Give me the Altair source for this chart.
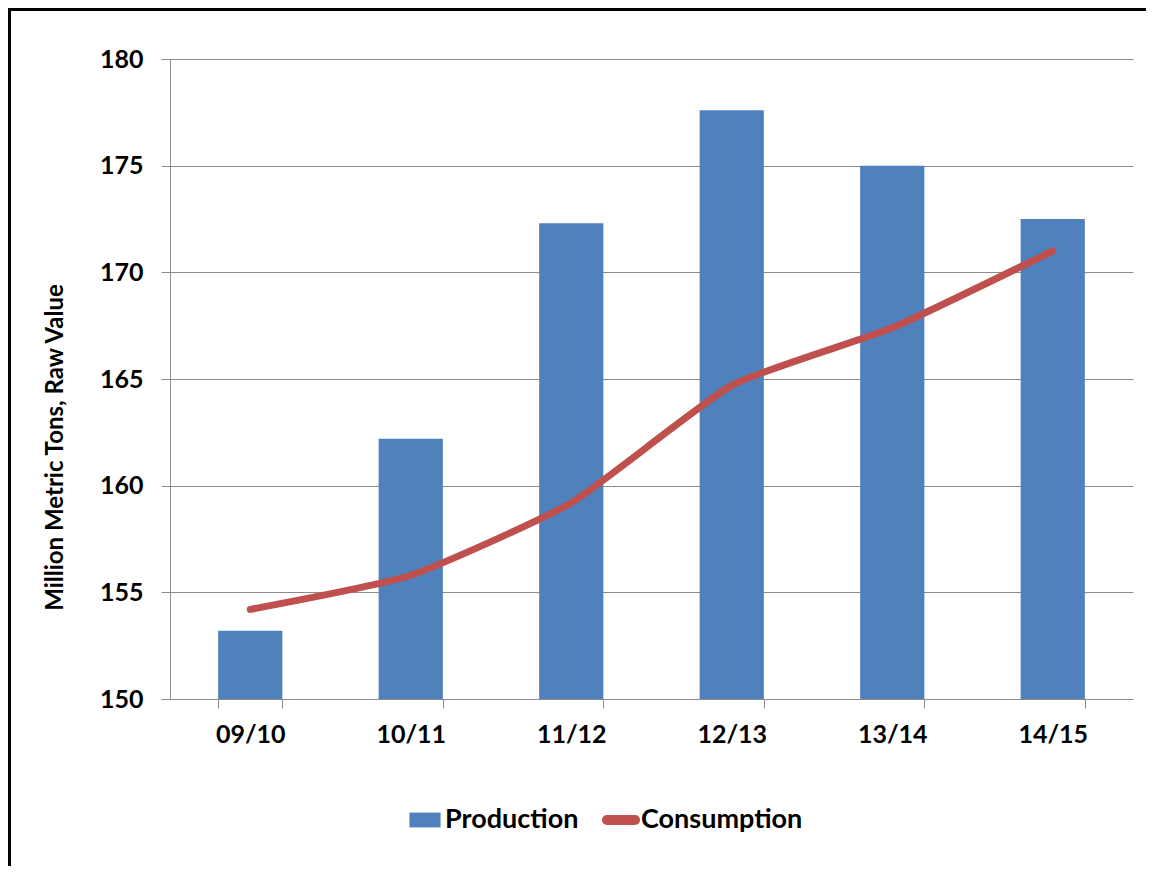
import altair as alt
import pandas as pd

seasons = ["09/10", "10/11", "11/12", "12/13", "13/14", "14/15"]
production = [153.2, 162.2, 172.3, 177.6, 175.0, 172.5]
consumption = [154.2, 155.8, 159.2, 164.7, 167.4, 171.0]
series_names = ["Production", "Consumption"]
series_colors = ["#4F81BD", "#C0504D"]
y_ticks = [150, 155, 160, 165, 170, 175, 180]
y_min, y_max = 150, 180

FONT = "Lato"

df = pd.DataFrame({"season": seasons, "Production": production, "Consumption": consumption})
leg_df = pd.DataFrame({"series": series_names, "season": [seasons[0]] * 2, "v": [production[0], consumption[0]]})

W, H = 963, 640

x_enc = alt.X(
    "season:N",
    sort=seasons,
    title=None,
    scale=alt.Scale(paddingInner=0.6, paddingOuter=0.3),
    axis=alt.Axis(
        tickBand="extent",
        domainColor="#8C8C8C",
        tickColor="#8C8C8C",
        tickSize=9,
        labelAngle=0,
        labelFont=FONT,
        labelFontWeight="bold",
        labelFontSize=25,
        labelColor="black",
        labelPadding=14,
        grid=False,
    ),
)

y_scale = alt.Scale(domain=[y_min, y_max], nice=False, zero=False)

bars = alt.Chart(df).mark_bar(color=series_colors[0]).encode(
    x=x_enc,
    y=alt.Y(
        "Production:Q",
        scale=y_scale,
        title="Million Metric Tons, Raw Value",
        axis=alt.Axis(
            values=y_ticks,
            domainColor="#8C8C8C",
            tickColor="#8C8C8C",
            tickSize=9,
            gridColor="#8C8C8C",
            gridWidth=1,
            labelFont=FONT,
            labelFontWeight="bold",
            labelFontSize=25,
            labelColor="black",
            labelPadding=18,
            titleFont=FONT,
            titleFontWeight="bold",
            titleFontSize=24,
            titleColor="black",
            titleAngle=-90,
            titleX=-115,
            titleY=388,
            titleBaseline="middle",
            titleAlign="center",
        ),
    ),
    y2=alt.datum(y_min),
)

line = alt.Chart(df).mark_line(
    color=series_colors[1], strokeWidth=7, interpolate="cardinal", tension=0.5, strokeCap="round"
).encode(
    x=alt.X("season:N", sort=seasons),
    y=alt.Y("Consumption:Q", scale=y_scale),
)

rect_path = "M-0.82,-0.39H0.82V0.39H-0.82Z"
capsule_path = "M-0.74,-0.26H0.74A0.26,0.26 0 0 1 0.74,0.26H-0.74A0.26,0.26 0 0 1 -0.74,-0.26Z"

legend_layer = alt.Chart(leg_df).mark_point(filled=True, size=0, opacity=1).encode(
    x=alt.X("season:N", sort=seasons),
    y=alt.Y("v:Q", scale=y_scale),
    color=alt.Color(
        "series:N",
        scale=alt.Scale(domain=series_names, range=series_colors),
        legend=alt.Legend(
            title=None,
            orient="none",
            direction="horizontal",
            legendX=236,
            legendY=742,
            symbolSize=1444,
            symbolOpacity=1,
            symbolStrokeWidth=0,
            labelFont=FONT,
            labelFontWeight="bold",
            labelFontSize=27,
            labelColor="black",
            labelOffset=1,
            labelLimit=400,
            columnPadding=22,
            padding=0,
        ),
    ),
    shape=alt.Shape(
        "series:N",
        scale=alt.Scale(domain=series_names, range=[rect_path, capsule_path]),
        legend=alt.Legend(title=None, orient="none", direction="horizontal", legendX=236, legendY=742),
    ),
)

border_df = pd.DataFrame({"k": [0]})
border_left = alt.Chart(border_df).mark_rule(color="black", strokeWidth=3).encode(
    x=alt.value(-160.5), y=alt.value(-49.5), y2=alt.value(820)
)
border_top = alt.Chart(border_df).mark_rule(color="black", strokeWidth=3).encode(
    x=alt.value(-162), x2=alt.value(990), y=alt.value(-49.5)
)

chart = alt.layer(bars, line, legend_layer, border_left, border_top).properties(
    width=W,
    height=H,
    autosize=alt.AutoSizeParams(type="none"),
    padding={"left": 162, "top": 51, "right": 13, "bottom": 167},
    background="white",
).configure_view(stroke=None)

chart.save("out.html", embed_options={"renderer": "svg", "actions": False})
